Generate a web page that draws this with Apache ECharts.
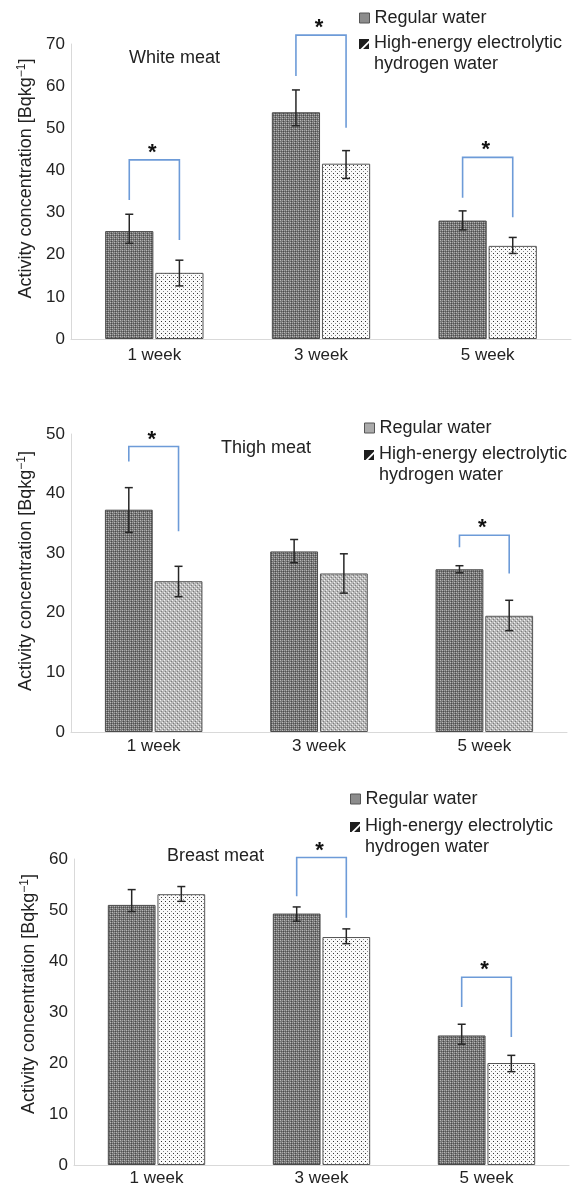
<!DOCTYPE html>
<html>
<head>
<meta charset="utf-8">
<script src="https://cdn.jsdelivr.net/npm/echarts@6/dist/echarts.min.js"></script>
<style>
  html, body { margin: 0; padding: 0; background: #fff; }
  #chart { width: 582px; height: 1189px; }
</style>
</head>
<body>
<div id="chart"></div>
<script>
const categories = ['1 week', '3 week', '5 week']
const seriesNames = ['Regular water', 'High-energy electrolytic hydrogen water']
const panelTitles = ['White meat', 'Thigh meat', 'Breast meat']
const yMax = [70, 50, 60]

// white meat
const whiteRegular = [25.6, 53.8, 28.1]
const whiteRegularLow = [22.7, 50.6, 25.9]
const whiteRegularHigh = [29.6, 59.1, 30.4]
const whiteHE = [15.7, 41.6, 22.1]
const whiteHELow = [12.6, 38.1, 20.3]
const whiteHEHigh = [18.7, 44.7, 24.1]
// [category, left end, top, right end]
const whiteBrackets = [[0, 33.0, 42.5, 23.5], [1, 62.4, 72.1, 50.1], [2, 33.5, 43.1, 28.9]]

// thigh meat
const thighRegular = [37.3, 30.3, 27.3]
const thighRegularLow = [33.5, 28.4, 26.7]
const thighRegularHigh = [41.0, 32.3, 27.9]
const thighHE = [25.3, 26.6, 19.5]
const thighHELow = [22.7, 23.3, 17.0]
const thighHEHigh = [27.8, 29.9, 22.1]
const thighBrackets = [[0, 45.4, 47.9, 33.7], [2, 31.0, 33.0, 26.6]]

// breast meat
const breastRegular = [51.0, 49.3, 25.4]
const breastRegularLow = [49.7, 47.8, 23.7]
const breastRegularHigh = [54.0, 50.6, 27.6]
const breastHE = [53.1, 44.7, 20.0]
const breastHELow = [51.7, 43.4, 18.3]
const breastHEHigh = [54.6, 46.3, 21.5]
const breastBrackets = [[1, 52.7, 60.3, 48.5], [2, 31.0, 36.8, 25.1]]

const FONT = "'Liberation Sans', Arial, sans-serif"
const GAP_CAT = 0.41
const GAP_BAR = 0.04

function makePattern(base, dots) {
  const c = document.createElement('canvas')
  c.width = 4
  c.height = 4
  const ctx = c.getContext('2d')
  ctx.fillStyle = base
  ctx.fillRect(0, 0, 4, 4)
  dots.forEach(d => {
    ctx.fillStyle = d[2]
    ctx.fillRect(d[0], d[1], 1, 1)
  })
  return { image: c, repeat: 'repeat' }
}

const regularFill = makePattern('#767676', [
  [0, 0, '#b8b8b8'], [2, 0, '#a2a2a2'], [0, 2, '#a2a2a2'], [2, 2, '#b8b8b8'],
  [3, 1, '#4a4a4a'], [3, 3, '#4a4a4a'], [1, 3, '#555'],
])
const dotFill = makePattern('#fafafa', [[1, 1, '#333'], [3, 3, '#888']])
const checkFill = makePattern('#b8b8b8', [
  [0, 0, '#f0f0f0'], [2, 2, '#f0f0f0'], [1, 3, '#7c7c7c'], [3, 1, '#7c7c7c'],
])

// dark square with a white diagonal, plus an empty segment below so the
// icon lines up with the first text line
const heIcon = 'path://M0,0L10,0L10,1.5L1.5,10L0,10Z M4,10L10,4L10,10Z M0,30L10,30Z'

const panels = [
  { reg: whiteRegular, regLo: whiteRegularLow, regHi: whiteRegularHigh,
    he: whiteHE, heLo: whiteHELow, heHi: whiteHEHigh, br: whiteBrackets,
    heFill: dotFill, grid: { left: 71, top: 44, width: 500, height: 295 },
    titlePos: [129, 49], legend: [359, 8, 18, 44], nameGap: 33, namePad: 26, labelMargin: 8 },
  { reg: thighRegular, regLo: thighRegularLow, regHi: thighRegularHigh,
    he: thighHE, heLo: thighHELow, heHi: thighHEHigh, br: thighBrackets,
    heFill: checkFill, grid: { left: 71, top: 434, width: 496, height: 298 },
    titlePos: [221, 439], legend: [364, 7, 428, 455], nameGap: 31, namePad: 24, labelMargin: 6 },
  { reg: breastRegular, regLo: breastRegularLow, regHi: breastRegularHigh,
    he: breastHE, heLo: breastHELow, heHi: breastHEHigh, br: breastBrackets,
    heFill: dotFill, grid: { left: 74, top: 859, width: 495, height: 306 },
    titlePos: [167, 847], legend: [350, 8, 799, 827], nameGap: 33, namePad: 36, labelMargin: 5 },
]

function barOffset(api, which) {
  const band = api.size([1, 0])[0]
  const barW = band * (1 - GAP_CAT) / (2 + GAP_BAR)
  const half = barW * (1 + GAP_BAR) / 2
  return which === 0 ? -half : half
}

function renderError(params, api) {
  const which = api.value(3)
  const dx = barOffset(api, which)
  const top = api.coord([api.value(0), api.value(2)])
  const bot = api.coord([api.value(0), api.value(1)])
  const x = top[0] + dx
  const st = { stroke: '#262626', lineWidth: 1.5 }
  return {
    type: 'group',
    children: [
      { type: 'line', shape: { x1: x, y1: top[1], x2: x, y2: bot[1] }, style: st },
      { type: 'line', shape: { x1: x - 4, y1: top[1], x2: x + 4, y2: top[1] }, style: st },
      { type: 'line', shape: { x1: x - 4, y1: bot[1], x2: x + 4, y2: bot[1] }, style: st },
    ],
  }
}

function renderBracket(params, api) {
  const cat = api.value(0)
  const xl = api.coord([cat, 0])[0] + barOffset(api, 0)
  const xr = api.coord([cat, 0])[0] + barOffset(api, 1)
  const yl = api.coord([cat, api.value(1)])[1]
  const yt = api.coord([cat, api.value(2)])[1]
  const yr = api.coord([cat, api.value(3)])[1]
  return {
    type: 'group',
    children: [
      { type: 'polyline', shape: { points: [[xl, yl], [xl, yt], [xr, yt], [xr, yr]] },
        style: { stroke: '#6d9bd8', lineWidth: 1.6, fill: null } },
      { type: 'text', x: (xl + xr) / 2 - 2, y: yt - 7,
        style: { text: '*', font: 'bold 22px ' + FONT, fill: '#111', align: 'center', verticalAlign: 'middle' } },
    ],
  }
}

const option = {
  animation: false,
  textStyle: { fontFamily: FONT },
  title: [],
  legend: [],
  grid: [],
  xAxis: [],
  yAxis: [],
  series: [],
}

panels.forEach((p, i) => {
  const lg = p.legend
  option.grid.push(p.grid)
  option.title.push({
    text: panelTitles[i], left: p.titlePos[0], top: p.titlePos[1], padding: 0,
    textStyle: { fontSize: 18, fontWeight: 'normal', color: '#222', fontFamily: FONT },
  })
  option.legend.push({
    data: [{ name: seriesNames[0], itemStyle: { color: i === 1 ? '#ababab' : '#8c8c8c', borderColor: '#555', borderWidth: 1 } }],
    orient: 'vertical', left: lg[0], top: lg[2] - 10, padding: 0,
    itemWidth: 10, itemHeight: 10, itemGap: 0, icon: 'rect', selectedMode: false, textGap: lg[1],
    textStyle: { fontSize: 18, lineHeight: 20, color: '#222', fontFamily: FONT },
  })
  option.legend.push({
    data: [{ name: seriesNames[1], icon: heIcon, itemStyle: { color: '#1e1e1e', borderWidth: 0 } }],
    orient: 'vertical', left: lg[0], top: lg[3] - 11, padding: 0,
    itemWidth: 10, itemHeight: 30, selectedMode: false, textGap: lg[1],
    formatter: () => 'High-energy electrolytic\nhydrogen water',
    textStyle: { fontSize: 18, lineHeight: 21, color: '#222', fontFamily: FONT },
  })
  option.xAxis.push({
    type: 'category', gridIndex: i, data: categories,
    axisTick: { show: false },
    axisLine: { lineStyle: { color: '#d9d9d9', width: 1 } },
    axisLabel: { fontSize: 17, color: '#222', margin: p.labelMargin, fontFamily: FONT },
  })
  option.yAxis.push({
    type: 'value', gridIndex: i, min: 0, max: yMax[i], interval: 10,
    splitLine: { show: false },
    axisTick: { show: false },
    axisLine: { show: true, lineStyle: { color: '#d9d9d9', width: 1 } },
    axisLabel: { fontSize: 17, color: '#222', margin: 6, fontFamily: FONT },
    name: '{a|Activity concentration [Bqkg}{s|\u22121}{a|]}',
    nameLocation: 'middle', nameGap: p.nameGap,
    nameTextStyle: {
      padding: [0, 0, 0, p.namePad],
      rich: {
        a: { fontSize: 18, color: '#222', fontFamily: FONT, lineHeight: 22 },
        s: { fontSize: 12, color: '#222', fontFamily: FONT, lineHeight: 22, verticalAlign: 'top', padding: [0, 0, 7, 0] },
      },
    },
  })
  option.series.push({
    name: seriesNames[0], type: 'bar', xAxisIndex: i, yAxisIndex: i, data: p.reg,
    barGap: (GAP_BAR * 100) + '%', barCategoryGap: (GAP_CAT * 100) + '%',
    itemStyle: { color: regularFill, borderColor: '#4a4a4a', borderWidth: 1 },
  })
  option.series.push({
    name: seriesNames[1], type: 'bar', xAxisIndex: i, yAxisIndex: i, data: p.he,
    barGap: (GAP_BAR * 100) + '%', barCategoryGap: (GAP_CAT * 100) + '%',
    itemStyle: { color: p.heFill, borderColor: '#555', borderWidth: 1 },
  })
  const errData = categories.map((c, k) => [k, p.regLo[k], p.regHi[k], 0])
    .concat(categories.map((c, k) => [k, p.heLo[k], p.heHi[k], 1]))
  option.series.push({
    type: 'custom', xAxisIndex: i, yAxisIndex: i, data: errData,
    renderItem: renderError, z: 5, silent: true,
  })
  option.series.push({
    type: 'custom', xAxisIndex: i, yAxisIndex: i, data: p.br,
    renderItem: renderBracket, z: 6, clip: false, silent: true,
  })
})

const chart = echarts.init(document.getElementById('chart'))
chart.setOption(option)
</script>
</body>
</html>
